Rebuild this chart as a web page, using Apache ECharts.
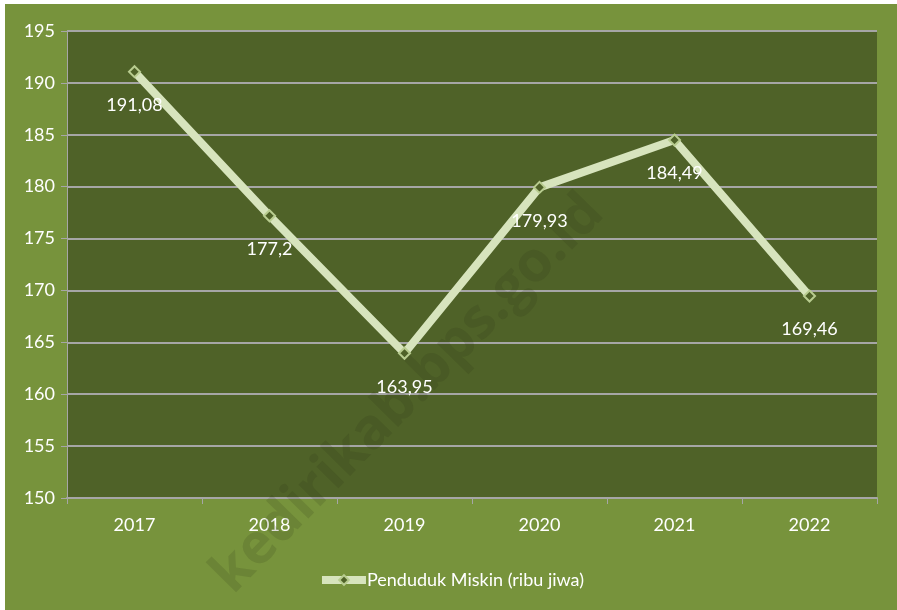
<!DOCTYPE html>
<html>
<head>
<meta charset="utf-8">
<script src="https://cdn.jsdelivr.net/npm/echarts@6/dist/echarts.min.js"></script>
<style>
  html, body { margin: 0; padding: 0; background: #fff; }
  #chart { position: absolute; left: 5px; top: 4px; width: 892px; height: 606px; }
</style>
</head>
<body>
<div id="chart"></div>
<script>
// data
const years = ['2017', '2018', '2019', '2020', '2021', '2022']
const penduduk = [191.08, 177.2, 163.95, 179.93, 184.49, 169.46]
const seriesName = 'Penduduk Miskin (ribu jiwa)'

const font = 'Lato, "Open Sans", sans-serif'
const chart = echarts.init(document.getElementById('chart'))
chart.setOption({
  backgroundColor: '#77933c',
  textStyle: { fontFamily: font },
  grid: {
    left: 62,
    right: 20,
    top: 27,
    bottom: 112,
    show: true,
    backgroundColor: '#4f6228',
    borderWidth: 0
  },
  legend: {
    bottom: 16,
    left: 'center',
    itemWidth: 44,
    itemHeight: 12,
    itemGap: 0,
    textStyle: { color: '#ffffff', fontSize: 18, fontFamily: font, padding: [0, 0, 0, -4] },
    lineStyle: { width: 8, color: '#d7e4bd' },
    data: [{ name: seriesName }]
  },
  xAxis: {
    type: 'category',
    data: years,
    boundaryGap: true,
    axisLine: { show: true, lineStyle: { color: '#a6a6a6', width: 2 } },
    axisTick: { show: true, length: 6, lineStyle: { color: '#a6a6a6', width: 1 } },
    axisLabel: { color: '#ffffff', fontSize: 18, margin: 18 }
  },
  yAxis: {
    type: 'value',
    min: 150,
    max: 195,
    interval: 5,
    axisLine: { show: true, lineStyle: { color: '#a6a6a6', width: 1 } },
    axisTick: { show: true, length: 6, lineStyle: { color: '#a6a6a6', width: 1 } },
    axisLabel: { color: '#ffffff', fontSize: 18, margin: 12 },
    splitLine: { show: true, lineStyle: { color: '#a6a6a6', width: 2 } }
  },
  graphic: [{
    type: 'text',
    x: 403,
    y: 390,
    rotation: Math.PI / 4 + 0.01,
    style: {
      text: 'kedirikab.bps.go.id',
      fill: 'rgba(40, 50, 20, 0.15)',
      font: 'bold 56px "Open Sans", sans-serif',
      align: 'center',
      verticalAlign: 'middle'
    },
    z: 1
  }],
  series: [{
    name: seriesName,
    type: 'line',
    data: penduduk,
    z: 3,
    lineStyle: { color: '#d7e4bd', width: 8 },
    itemStyle: { color: '#4f6228', borderColor: '#b8cc8f', borderWidth: 2 },
    symbol: 'diamond',
    symbolSize: 11,
    label: {
      show: true,
      position: 'bottom',
      distance: 18,
      color: '#ffffff',
      fontSize: 18,
      formatter: p => String(p.value).replace('.', ',')
    }
  }]
})
</script>
</body>
</html>
